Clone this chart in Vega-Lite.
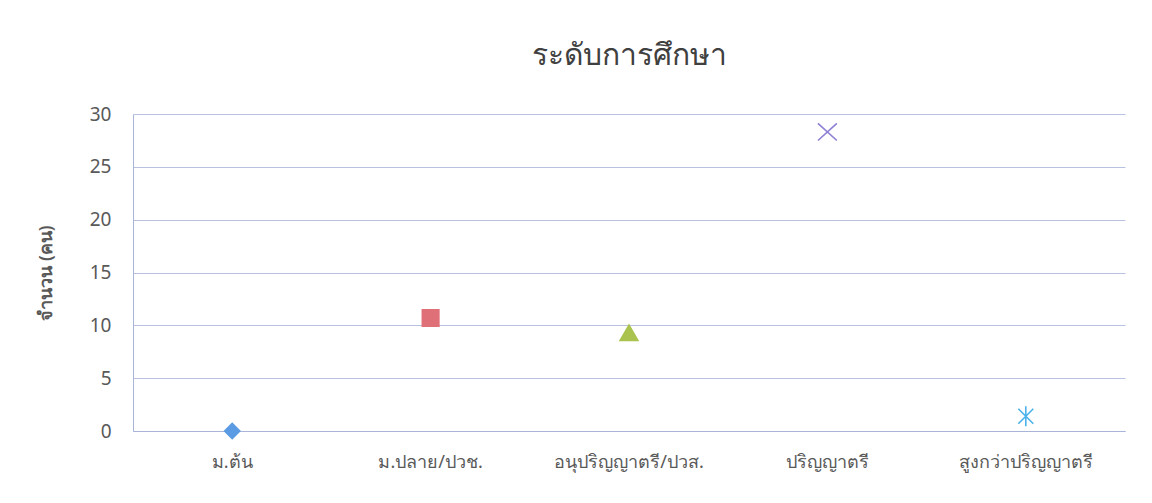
{
  "$schema": "https://vega.github.io/schema/vega-lite/v6.json",
  "width": 992,
  "height": 317,
  "autosize": {"type": "none"},
  "padding": {"left": 133, "top": 114, "right": 27, "bottom": 72},
  "background": "white",
  "title": {
    "text": "ระดับการศึกษา",
    "fontSize": 30,
    "fontWeight": "normal",
    "color": "#404040",
    "offset": 34,
    "anchor": "middle"
  },
  "data": {
    "values": [
      {"level": "ม.ต้น", "count": 0},
      {"level": "ม.ปลาย/ปวช.", "count": 10.7},
      {"level": "อนุปริญญาตรี/ปวส.", "count": 9.3},
      {"level": "ปริญญาตรี", "count": 28.3},
      {"level": "สูงกว่าปริญญาตรี", "count": 1.4}
    ]
  },
  "mark": {"type": "point", "filled": false, "strokeWidth": 1.6, "opacity": 1},
  "encoding": {
    "x": {
      "field": "level",
      "type": "nominal",
      "sort": null,
      "scale": {"type": "band", "paddingInner": 0, "paddingOuter": 0},
      "axis": {
        "title": null,
        "labelAngle": 0,
        "labelFontSize": 18,
        "labelColor": "#595959",
        "labelPadding": 22,
        "ticks": false,
        "domainColor": "#a8b4d8",
        "grid": false
      }
    },
    "y": {
      "field": "count",
      "type": "quantitative",
      "scale": {"domain": [0, 30], "nice": false},
      "axis": {
        "title": "จำนวน (คน)",
        "titleFontSize": 18,
        "titleFontWeight": 600,
        "titleColor": "#595959",
        "titlePadding": 34,
        "values": [0, 5, 10, 15, 20, 25, 30],
        "labelFontSize": 19,
        "labelColor": "#595959",
        "labelPadding": 22,
        "ticks": false,
        "domainColor": "#a8b4d8",
        "gridColor": "#b8c2e0",
        "gridWidth": 1
      }
    },
    "shape": {
      "field": "level",
      "type": "nominal",
      "sort": null,
      "legend": null,
      "scale": {
        "range": [
          "diamond",
          "square",
          "triangle-up",
          "M-1,-0.9L1,0.9M-1,0.9L1,-0.9",
          "M-0.75,-0.75L0.75,0.75M-0.75,0.75L0.75,-0.75M0,-1L0,1"
        ]
      }
    },
    "fill": {
      "field": "level",
      "type": "nominal",
      "sort": null,
      "legend": null,
      "scale": {"range": ["#5b9be3", "#e07078", "#a9c34e", "transparent", "transparent"]}
    },
    "stroke": {
      "field": "level",
      "type": "nominal",
      "sort": null,
      "legend": null,
      "scale": {"range": ["#5b9be3", "#e07078", "#a9c34e", "#8e7ed4", "#4cb2ea"]}
    },
    "size": {
      "field": "level",
      "type": "nominal",
      "sort": null,
      "legend": null,
      "scale": {"range": [230, 400, 340, 420, 460]}
    }
  },
  "config": {
    "font": "Noto Sans",
    "view": {"stroke": null}
  }
}
